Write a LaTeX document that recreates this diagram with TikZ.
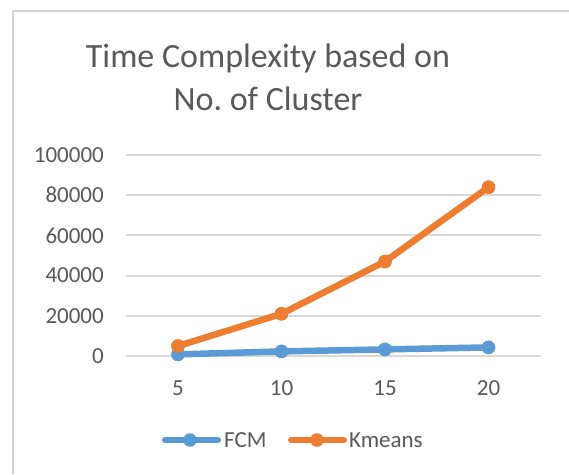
\documentclass[tikz,border=0pt]{standalone}
\usepackage{fontspec}
\setmainfont{Carlito}
\definecolor{fcmblue}{HTML}{5B9BD5}
\definecolor{kmorange}{HTML}{ED7D31}
\definecolor{gridgray}{HTML}{D9D9D9}
\definecolor{framegray}{HTML}{D4D4D4}
\definecolor{labelgray}{HTML}{595959}
\begin{document}
\begin{tikzpicture}[x=1pt,y=-1pt,
  gridline/.style={draw=gridgray,line width=2pt},
  ticklabel/.style={text=labelgray,font=\fontsize{23}{28}\selectfont,inner sep=0pt},
  series/.style={line width=6.5pt,line cap=round,line join=round},
  dot/.style={circle,inner sep=0pt,minimum size=13.5pt},
  fcmdot/.style={dot,fill=fcmblue},
  kmdot/.style={dot,fill=kmorange}]
\useasboundingbox (0,0) rectangle (569,474);
\fill[white] (0,0) rectangle (569,474);
% chart frame
\draw[framegray,line width=2pt] (12.5,474) -- (12.5,10.5) -- (569,10.5);
% title (two lines)
\node[text=labelgray,font=\fontsize{34}{43}\selectfont,anchor=base,inner sep=0pt]
  (title1) at (268,67) {Time Complexity based on};
\node[text=labelgray,font=\fontsize{34}{43}\selectfont,anchor=base,inner sep=0pt]
  (title2) at (268,110) {No.\ of Cluster};
% horizontal grid lines and value labels
\foreach \v/\yy in {0/356,20000/315.8,40000/275.6,60000/235.4,80000/195.2,100000/155}{
  \draw[gridline] (126,\yy) -- (541,\yy);
  \node[ticklabel,anchor=east] (y\v) at (104,\yy) {\v};
}
% category labels
\foreach \c/\xx in {5/178,10/281.5,15/385,20/488.5}{
  \node[ticklabel,anchor=base] (x\c) at (\xx,395) {\c};
}
% data points
\node[kmdot] (k5)  at (178,346) {};
\node[kmdot] (k10) at (281.5,313.8) {};
\node[kmdot] (k15) at (385,261.5) {};
\node[kmdot] (k20) at (488.5,187.2) {};
\node[fcmdot] (f5)  at (178,354.4) {};
\node[fcmdot] (f10) at (281.5,351.4) {};
\node[fcmdot] (f15) at (385,349.4) {};
\node[fcmdot] (f20) at (488.5,347.4) {};
% series lines
\draw[series,fcmblue] (f5.center) -- (f10.center) -- (f15.center) -- (f20.center);
\draw[series,kmorange] (k5.center) -- (k10.center) -- (k15.center) -- (k20.center);
% redraw markers on top
\foreach \n in {f5,f10,f15,f20}{\fill[fcmblue] (\n) circle (6.75pt);}
\foreach \n in {k5,k10,k15,k20}{\fill[kmorange] (\n) circle (6.75pt);}
% legend
\coordinate (lfa) at (165,440);
\coordinate (lfb) at (218,440);
\coordinate (lka) at (291,440);
\coordinate (lkb) at (344,440);
\draw[series,fcmblue,line width=6pt] (lfa) -- (lfb);
\node[fcmdot] (lfm) at (190,440) {};
\node[ticklabel,anchor=west] (lfcm) at (224,440) {FCM};
\draw[series,kmorange,line width=6pt] (lka) -- (lkb);
\node[kmdot] (lkm) at (317,440) {};
\node[ticklabel,anchor=west] (lkmeans) at (349,440) {Kmeans};
\end{tikzpicture}
\end{document}
